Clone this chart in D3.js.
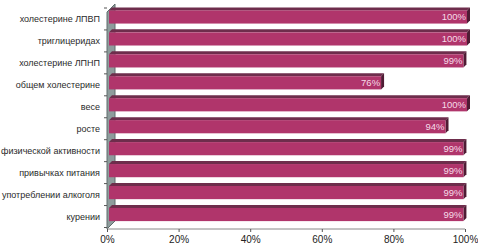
<!DOCTYPE html>
<html>
<head>
<meta charset="utf-8">
<script src="https://cdn.jsdelivr.net/npm/d3@7"></script>
<style>
  html, body { margin: 0; padding: 0; background: #fff; }
  svg { display: block; }
  text { font-family: "Liberation Sans", Arial, sans-serif; }
</style>
</head>
<body>
<svg id="chart" width="478" height="246"></svg>
<script>
const categories = [
    "холестерине ЛПВП",
    "триглицеридах",
    "холестерине ЛПНП",
    "общем холестерине",
    "весе",
    "росте",
    "физической активности",
    "привычках питания",
    "употреблении алкоголя",
    "курении"
];
const values = [100, 100, 99, 76, 100, 94, 99, 99, 99, 99];
const tickValues = [0, 20, 40, 60, 80, 100];

const svg = d3.select("#chart");

const x = d3.scaleLinear().domain([0, 100]).range([107, 465]);
const y = d3.scaleBand().domain(categories).range([8, 227.5])
    .paddingInner(0.4).paddingOuter(0.2);

const axisY = 229;
const wallD = 8;      // depth of the side wall
const zf = 2, zb = 5; // bar front / back depth

// 3d point -> screen
const P = (px, py, z) => [px + z, py - z];
const poly = pts => "M" + pts.map(p => p.join(",")).join("L") + "Z";

// side wall
svg.append("path")
    .attr("d", poly([P(107, axisY, 0), P(107, 12, 0), P(107, 12, wallD), P(107, axisY, wallD)]))
    .attr("fill", "#8e9c9c")
    .attr("stroke", "#5f6c6c")
    .attr("stroke-width", 1);

// category ticks on the wall edge
const step = y.step();
const bounds = categories.map(c => y(c) - step * 0.2).concat([y(categories[9]) + y.bandwidth() + step * 0.2]);
svg.append("g").selectAll("line")
    .data(bounds)
    .enter().append("line")
    .attr("x1", 104).attr("x2", 107)
    .attr("y1", d => d).attr("y2", d => d)
    .attr("stroke", "#555");

// x axis
const xAxis = d3.axisBottom(x)
    .tickValues(tickValues)
    .tickSize(3)
    .tickFormat(d => d + "%");
const gx = svg.append("g")
    .attr("transform", `translate(0,${axisY})`)
    .call(xAxis);
gx.select(".domain").attr("stroke", "#888").attr("d", `M${x(0)},0H${x(100)}`);
gx.selectAll(".tick line").attr("stroke", "#555");
gx.selectAll(".tick text")
    .attr("font-family", "Liberation Sans, Arial, sans-serif")
    .attr("font-size", 10)
    .attr("fill", "#222")
    .attr("y", 7);

// bars
const bars = svg.append("g").selectAll("g")
    .data(categories.map((c, i) => ({ cat: c, v: values[i] })))
    .enter().append("g");

bars.append("path")
    .attr("d", d => {
        const yt = y(d.cat);
        return poly([P(x(0), yt, zf), P(x(d.v), yt, zf), P(x(d.v), yt, zb), P(x(0), yt, zb)]);
    })
    .attr("fill", "#6e2d4c");

bars.append("path")
    .attr("d", d => {
        const yt = y(d.cat), yb = yt + y.bandwidth();
        return poly([P(x(d.v), yt, zf), P(x(d.v), yb, zf), P(x(d.v), yb, zb), P(x(d.v), yt, zb)]);
    })
    .attr("fill", "#4e1c34");

bars.append("rect")
    .attr("x", d => x(0) + zf)
    .attr("y", d => y(d.cat) - zf)
    .attr("width", d => x(d.v) - x(0))
    .attr("height", y.bandwidth())
    .attr("fill", "#b0356b");

bars.append("text")
    .attr("x", d => x(d.v) + zf - 1)
    .attr("y", d => y(d.cat) - zf + y.bandwidth() / 2)
    .attr("dy", "0.35em")
    .attr("text-anchor", "end")
    .attr("font-size", 9.5)
    .attr("fill", "#f6dbe8")
    .text(d => d.v + "%");

// category labels
svg.append("g").selectAll("text")
    .data(categories)
    .enter().append("text")
    .attr("x", 100)
    .attr("y", d => y(d) + y.bandwidth() / 2)
    .attr("dy", "0.35em")
    .attr("text-anchor", "end")
    .attr("font-size", 9)
    .attr("fill", "#2a2a2a")
    .text(d => d);
</script>
</body>
</html>
